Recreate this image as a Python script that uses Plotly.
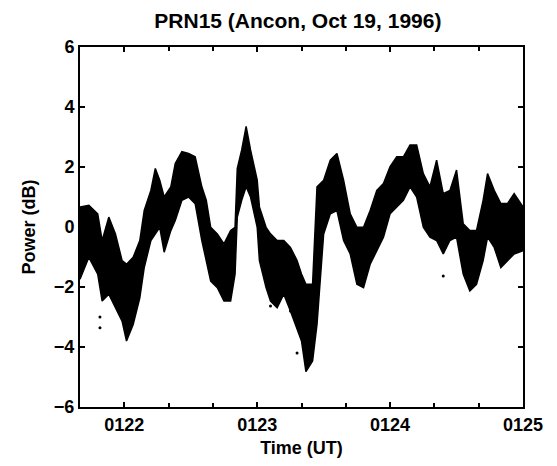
import plotly.graph_objects as go

# time in seconds after 01:21:00 UT
time_s = [40, 44, 48, 50, 53, 56, 59, 61, 64, 67, 69, 72, 74, 76, 78, 81, 83, 86, 89, 92,
          95, 97, 99, 102, 105, 108, 110, 111, 113, 115, 117, 120, 121, 124, 126, 129, 132,
          135, 138, 140, 142, 145, 147, 150, 153, 156, 159, 162, 165, 168, 171, 174, 177,
          180, 183, 186, 189, 192, 195, 198, 201, 204, 207, 210, 213, 216, 219, 222, 224,
          227, 230, 233, 236, 240]
power_hi = [0.67, 0.72, 0.44, -0.45, 0.33, -0.23, -1.12, -1.24, -1.01, -0.45, 0.55, 1.22,
            1.95, 1.56, 1.00, 1.34, 2.12, 2.51, 2.45, 2.34, 1.34, 0.89, -0.01, -0.23, -0.56,
            -0.12, -0.01, 1.95, 2.57, 3.35, 2.57, 1.56, 0.67, -0.01, -0.23, -0.45, -0.45,
            -0.68, -1.12, -1.57, -1.91, -1.91, 1.34, 1.56, 2.23, 2.45, 1.56, 0.44, -0.01,
            -0.01, 0.55, 1.22, 1.45, 2.01, 2.34, 2.34, 2.73, 2.73, 1.78, 1.34, 2.23, 1.11,
            1.22, 1.90, 0.11, -0.12, -0.12, 0.89, 1.78, 1.22, 0.78, 0.78, 1.11, 0.67]
power_lo = [-1.74, -1.01, -1.57, -2.47, -2.24, -2.69, -3.14, -3.80, -3.25, -2.36, -1.35,
            -0.45, -0.23, -0.01, -0.84, -0.12, 0.22, 0.89, 1.00, 0.78, -0.45, -1.12, -1.80,
            -2.02, -2.47, -2.47, -1.57, 0.33, 0.89, 1.34, 1.00, -0.01, -1.12, -2.02, -2.47,
            -2.69, -2.24, -2.80, -3.36, -3.80, -4.82, -4.47, -3.25, -0.23, 0.44, 0.55, -0.45,
            -0.90, -1.91, -2.02, -1.24, -0.79, -0.34, 0.44, 0.67, 0.89, 1.34, 1.00, -0.01,
            -0.34, -0.45, -0.90, -0.45, -0.34, -1.57, -2.13, -1.91, -1.12, -0.34, -0.68,
            -1.35, -1.12, -0.90, -0.79]
# isolated samples outside the dense band
dot_time_s = [49, 49, 126, 135, 138, 204]
dot_power = [-3.0, -3.36, -2.63, -2.8, -4.2, -1.63]

y_ticks = [-6, -4, -2, 0, 2, 4, 6]
x_tickvals = [60, 120, 180, 240]
x_ticktext = ["0122", "0123", "0124", "0125"]

fig = go.Figure()
fig.add_trace(go.Scatter(x=time_s, y=power_lo, mode="lines",
                         line=dict(color="black", width=1.5), showlegend=False))
fig.add_trace(go.Scatter(x=time_s, y=power_hi, mode="lines", fill="tonexty",
                         fillcolor="black", line=dict(color="black", width=1.5),
                         showlegend=False))
fig.add_trace(go.Scatter(x=dot_time_s, y=dot_power, mode="markers",
                         marker=dict(color="black", size=3), showlegend=False))

font = dict(family="Liberation Sans, Arial, sans-serif", color="black", size=18,
            weight="bold")
fig.update_layout(
    width=549, height=458,
    margin=dict(l=72, r=34, t=39, b=59),
    paper_bgcolor="white", plot_bgcolor="white",
    font=font,
    title=dict(text="PRN15 (Ancon, Oct 19, 1996)", x=0.528, xanchor="center",
               y=0.972, yanchor="middle",
               font=dict(size=21, color="black", weight="bold")),
)
fig.update_xaxes(range=[40, 240], tickvals=x_tickvals, ticktext=x_ticktext,
                 ticks="inside", ticklen=5, tickcolor="black", tickwidth=2,
                 minor=dict(dtick=20, tick0=0, ticks="inside", ticklen=4,
                            tickcolor="black", tickwidth=2),
                 showline=True, linecolor="black", linewidth=2, mirror="ticks",
                 showgrid=False, zeroline=False,
                 title=dict(text="Time (UT)", standoff=8, font=dict(size=18)))
fig.update_yaxes(range=[-6, 6], tickvals=y_ticks,
                 ticks="inside", ticklen=5, tickcolor="black", tickwidth=2,
                 showline=True, linecolor="black", linewidth=2, mirror="ticks",
                 showgrid=False, zeroline=False,
                 title=dict(text="Power (dB)", standoff=14, font=dict(size=18)))

fig.write_html("out.html")
